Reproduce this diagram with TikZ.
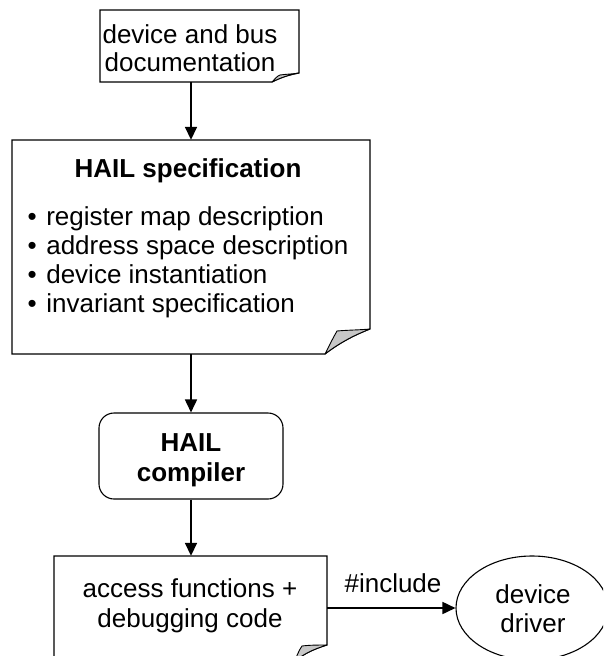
\documentclass[tikz,border=0pt]{standalone}
\usepackage{fontspec}
\setmainfont{Liberation Sans}
\usetikzlibrary{arrows.meta,shapes.geometric}
\begin{document}
\begin{tikzpicture}[x=1pt,y=-1pt,
  txt/.style={font=\fontsize{26}{29}\selectfont, inner sep=0pt, anchor=base},
  btxt/.style={font=\fontsize{26}{29}\selectfont\bfseries, inner sep=0pt, anchor=base},
  ltxt/.style={font=\fontsize{26}{29}\selectfont, inner sep=0pt, anchor=base west},
  box/.style={draw=none, inner sep=0pt},
  outline/.style={draw=black, line width=1.1pt, line join=miter, fill=white},
  fold/.style={draw=black, line width=0.9pt, line join=round, fill=black!22},
  conn/.style={line width=1.7pt, -{Triangle[length=13pt,width=12pt]}},
]
\useasboundingbox (0,0) rectangle (603,656);
\clip (0,0) rectangle (603,656);

% ---- top document ----
\node[box, minimum width=199pt, minimum height=72pt] (doc) at (199.5,46) {};
\draw[outline] (100,10) -- (299,10) -- (299,73)
  .. controls (288,75) and (280,78) .. (272,82) -- (100,82) -- cycle;
\draw[fold] (272,82) .. controls (275,79) and (277,76) .. (280,75)
  .. controls (287,74) and (294,74) .. (299,73)
  .. controls (288,75) and (280,78) .. (272,82) -- cycle;
\node[txt] (doct1) at (190,43) {device and bus};
\node[txt] (doct2) at (190,71) {documentation};

% ---- HAIL specification ----
\node[box, minimum width=358pt, minimum height=214pt] (spec) at (191,247) {};
\draw[outline] (12,140) -- (370,140) -- (370,329)
  .. controls (352,336) and (338,344) .. (325,354) -- (12,354) -- cycle;
\draw[fold] (325,354) .. controls (329,346) and (333,338) .. (337,331)
  .. controls (348,330) and (360,330) .. (370,329)
  .. controls (352,336) and (338,344) .. (325,354) -- cycle;
\node[btxt] (spect) at (188,177) {HAIL specification};
\node[ltxt] (b1) at (27.5,225) {\textbullet\hspace{2.3pt} register map description};
\node[ltxt] (b2) at (27.5,254) {\textbullet\hspace{2.3pt} address space description};
\node[ltxt] (b3) at (27.5,283) {\textbullet\hspace{2.3pt} device instantiation};
\node[ltxt] (b4) at (27.5,312) {\textbullet\hspace{2.3pt} invariant specification};

% ---- HAIL compiler ----
\node[draw, line width=1.1pt, rounded corners=15pt, minimum width=184pt,
      minimum height=86pt, inner sep=0pt] (comp) at (191,456) {};
\node[btxt] (compt1) at (191,451) {HAIL};
\node[btxt] (compt2) at (191,481) {compiler};

% ---- access functions ----
\node[box, minimum width=273pt, minimum height=106pt] (acc) at (190.5,609) {};
\draw[outline] (54,556) -- (327,556) -- (327,645)
  .. controls (314,649) and (303,654) .. (294,662) -- (54,662) -- cycle;
\draw[fold] (294,662) .. controls (297,656) and (299,650) .. (302,646)
  .. controls (310,645) and (319,645) .. (327,645)
  .. controls (314,649) and (303,654) .. (294,662) -- cycle;
\node[txt] (acct1) at (190,597) {access functions +};
\node[txt] (acct2) at (190,627) {debugging code};

% ---- device driver ----
\node[draw, ellipse, line width=1.1pt, minimum width=152pt, minimum height=104pt,
      inner sep=0pt] (drv) at (532,608) {};
\node[txt] (drvt1) at (533,603) {device};
\node[txt] (drvt2) at (533,632) {driver};

% ---- connectors ----
\draw[conn] (doc.south -| spec.north) -- (spec.north);
\draw[conn] (spec.south) -- (comp.north);
\draw[conn] (comp.south) -- (comp.south |- acc.north);
\draw[conn] (acc.east |- drv.west) -- (drv.west);
\node[txt] (inc) at (393,592) {\#include};
\end{tikzpicture}
\end{document}
